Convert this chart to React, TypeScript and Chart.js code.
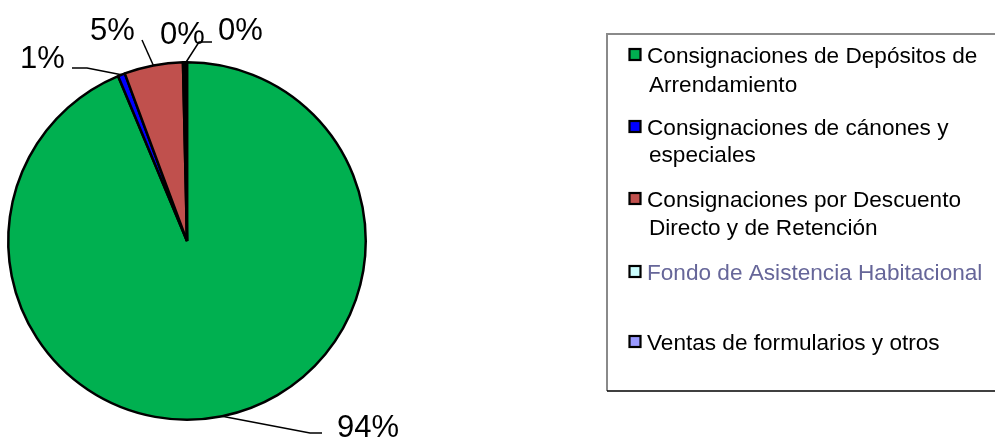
import React, { useEffect, useRef } from "react";
import { Chart, registerables } from "chart.js";

Chart.register(...registerables);

const categories = [
  "Consignaciones de Depósitos de Arrendamiento",
  "Consignaciones de cánones y especiales",
  "Consignaciones por Descuento Directo y de Retención",
  "Fondo de Asistencia Habitacional",
  "Ventas de formularios y otros",
];
const values = [93.7, 0.64, 5.3, 0.18, 0.18];
const percentLabels = ["94%", "1%", "5%", "0%", "0%"];
const legendLines = [
  ["Consignaciones de Depósitos de", "Arrendamiento"],
  ["Consignaciones de cánones y", "especiales"],
  ["Consignaciones por Descuento", "Directo y de Retención"],
  ["Fondo de Asistencia Habitacional"],
  ["Ventas de formularios y otros"],
];
const sliceColors = ["#00b050", "#0000ff", "#c0504d", "#ccffff", "#9999ff"];
const legendTextColors = ["#000000", "#000000", "#000000", "#666699", "#000000"];

// label layout (text left x, baseline y, leader elbow points)
const labelLayout = [
  { x: 337, y: 437, leader: [[310, 433], [322, 433]] },
  { x: 20, y: 68, leader: [[87, 68], [72, 68]] },
  { x: 90, y: 40, leader: [[142, 40]] },
  { x: 160, y: 44, leader: null },
  { x: 218, y: 40, leader: [[199, 42], [212, 42]] },
];
const legendBaselines = [[63, 92], [135, 162], [207, 235], [280], [350]];

const FONT = "'Liberation Sans', Arial, sans-serif";

const overlayPlugin = {
  id: "overlay",
  afterDraw(chart: any) {
    const ctx = chart.ctx;
    const meta = chart.getDatasetMeta(0);
    ctx.save();
    // data labels with leader lines
    ctx.font = `31px ${FONT}`;
    ctx.fillStyle = "#000";
    ctx.textBaseline = "alphabetic";
    ctx.textAlign = "left";
    meta.data.forEach((arc: any, i: number) => {
      const p = arc.getProps(["x", "y", "startAngle", "endAngle", "outerRadius"], true);
      const mid = (p.startAngle + p.endAngle) / 2;
      const sx = p.x + Math.cos(mid) * p.outerRadius;
      const sy = p.y + Math.sin(mid) * p.outerRadius;
      const lay = labelLayout[i];
      if (lay.leader) {
        ctx.beginPath();
        ctx.strokeStyle = "#000";
        ctx.lineWidth = 1.5;
        ctx.moveTo(sx, sy);
        lay.leader.forEach((pt: number[]) => ctx.lineTo(pt[0], pt[1]));
        ctx.stroke();
      }
      ctx.fillText(percentLabels[i], lay.x, lay.y);
    });

    // legend box
    ctx.lineWidth = 2;
    ctx.strokeStyle = "#8a8a8a";
    ctx.beginPath();
    ctx.moveTo(996, 34);
    ctx.lineTo(607, 34);
    ctx.lineTo(607, 391);
    ctx.stroke();
    ctx.strokeStyle = "#000";
    ctx.lineWidth = 1.5;
    ctx.beginPath();
    ctx.moveTo(607, 391);
    ctx.lineTo(996, 391);
    ctx.stroke();

    ctx.font = `22.6px ${FONT}`;
    legendLines.forEach((lines, i) => {
      const bl = legendBaselines[i];
      const my = bl[0] - 8.5;
      ctx.fillStyle = sliceColors[i];
      ctx.fillRect(629.5, my - 5.5, 11, 11);
      ctx.strokeStyle = "#000";
      ctx.lineWidth = 2.2;
      ctx.strokeRect(629.5, my - 5.5, 11, 11);
      ctx.fillStyle = legendTextColors[i];
      lines.forEach((t, j) => {
        ctx.fillText(t, j === 0 ? 647 : 649, bl[j]);
      });
    });
    ctx.restore();
  },
};

export default function App() {
  const ref = useRef<HTMLCanvasElement | null>(null);
  useEffect(() => {
    document.body.style.margin = "0";
    const chart = new Chart(ref.current as HTMLCanvasElement, {
      type: "pie",
      data: {
        labels: categories,
        datasets: [
          {
            data: values,
            backgroundColor: sliceColors,
            borderColor: "#000000",
            borderWidth: 2.5,
          },
        ],
      },
      options: {
        responsive: false,
        animation: false,
        layout: { padding: { left: 7, top: 61, right: 628, bottom: 17 } },
        plugins: {
          legend: { display: false },
          tooltip: { enabled: false },
        },
      },
      plugins: [overlayPlugin],
    });
    return () => chart.destroy();
  }, []);
  return (
    <canvas
      ref={ref}
      width={995}
      height={438}
      style={{ display: "block", width: 995, height: 438, background: "#fff" }}
    />
  );
}
